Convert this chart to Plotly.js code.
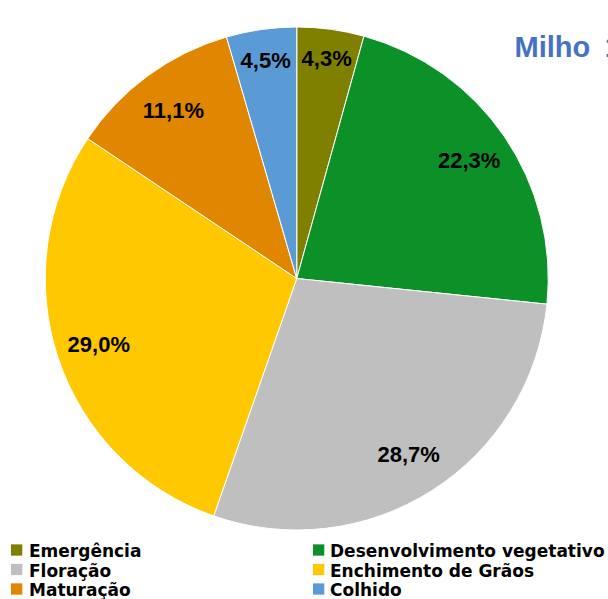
<!DOCTYPE html>
<html>
<head>
<meta charset="utf-8">
<script src="https://cdn.plot.ly/plotly-3.0.1.min.js"></script>
<style>html,body{margin:0;padding:0;background:#fff;}#chart{width:608px;height:599px;}</style>
</head>
<body>
<div id="chart"></div>
<script>
// ---- data ----
const categories = ['Emergência', 'Desenvolvimento vegetativo', 'Floração', 'Enchimento de Grãos', 'Maturação', 'Colhido'];
const shares = [4.3, 22.3, 28.7, 29.0, 11.1, 4.5];
const colors = ['#808000', '#0B9128', '#BFBFBF', '#FFC800', '#E08600', '#5B9BD5'];
const titleText = 'Milho\u20021ª Safra';

const W = 608, H = 599;
const px = (x) => x / W;
const py = (y) => 1 - y / H;
const domain = {x: [px(45), px(548.5)], y: [py(530), py(27)]};

const labelsText = shares.map(v => v.toFixed(1).replace('.', ',') + '%');

const pieBase = {
  type: 'pie',
  values: shares,
  labels: categories,
  sort: false,
  direction: 'clockwise',
  rotation: 0,
  domain: domain,
  showlegend: false,
  hoverinfo: 'label+percent'
};

const pie = Object.assign({}, pieBase, {
  marker: {colors: colors, line: {color: '#ffffff', width: 1}},
  textinfo: 'none'
});

const labelRing = Object.assign({}, pieBase, {
  hole: 0.66,
  marker: {colors: categories.map(() => 'rgba(0,0,0,0)'), line: {width: 0}},
  text: labelsText,
  textinfo: 'text',
  textposition: 'inside',
  insidetextorientation: 'horizontal',
  textfont: {family: 'Liberation Sans', size: 22, color: '#000000', weight: 'bold'},
  hoverinfo: 'skip'
});

// legend built from the category arrays (2 columns, row-major)
const legendCols = [{sq: 11, tx: 27}, {sq: 313, tx: 328}];
const legendRows = [550, 569.5, 589];
const sqSize = 11.3;
const shapes = [], annotations = [];
categories.forEach((c, i) => {
  const col = legendCols[i % 2], row = legendRows[Math.floor(i / 2)];
  shapes.push({type: 'rect', xref: 'paper', yref: 'paper',
    x0: px(col.sq), x1: px(col.sq + sqSize), y0: py(row + sqSize / 2), y1: py(row - sqSize / 2),
    fillcolor: colors[i], line: {width: 0}});
  annotations.push({xref: 'paper', yref: 'paper', x: px(col.tx), y: py(row + 1), xanchor: 'left', yanchor: 'middle',
    text: c, showarrow: false,
    font: {family: 'DejaVu Sans', size: 17, color: '#000000', weight: 'bold'}});
});

const layout = {
  width: W, height: H,
  margin: {l: 0, r: 0, t: 0, b: 0},
  paper_bgcolor: '#ffffff',
  showlegend: false,
  uniformtext: {mode: 'show', minsize: 22},
  title: {text: titleText, xref: 'paper', yref: 'paper', x: px(514.5), xanchor: 'left', y: py(47), yanchor: 'middle',
    font: {family: 'Liberation Sans', size: 29, color: '#4472C4', weight: 'bold'}},
  shapes: shapes,
  annotations: annotations
};

Plotly.newPlot('chart', [pie, labelRing], layout, {displayModeBar: false, staticPlot: true});
</script>
</body>
</html>
